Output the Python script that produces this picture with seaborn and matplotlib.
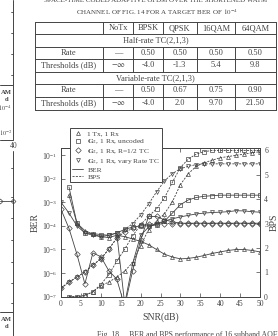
import seaborn as sns
import matplotlib.pyplot as plt
from matplotlib.lines import Line2D

sns.set_style("ticks")
plt.rcParams['font.family'] = ['Liberation Serif', 'DejaVu Serif']
plt.rcParams['mathtext.fontset'] = 'stix'

ink = '#444444'

# ---- data ----
snr = [2, 4, 6, 8, 10, 12, 14, 16, 18, 20, 22, 24, 26, 28, 30, 32, 34, 36, 38, 40, 42, 44, 46, 48, 50]
snr_tc = [0] + snr   # turbo coded curves start at 0 dB

ber_1tx = [2.0e-3, 1.3e-4, 6.3e-5, 4.5e-5, 3.5e-5, 3.2e-5, 4.0e-5, 3.5e-5, 2.8e-5, 2.2e-5, 1.6e-5, 1.0e-5, 6.3e-6,
           4.8e-6, 4.0e-6, 4.2e-6, 4.7e-6, 5.6e-6, 6.8e-6, 7.9e-6, 9.1e-6, 1.0e-5, 1.0e-5, 9.1e-6, 7.9e-6]
ber_unc = [4.5e-3, 1.3e-4, 5.0e-5, 4.7e-5, 4.3e-5, 4.0e-5, 5.0e-5, 7.1e-5, 8.9e-5, 1.0e-4, 1.0e-4, 1.1e-4, 1.6e-4,
           3.5e-4, 7.9e-4, 1.26e-3, 1.6e-3, 1.8e-3, 1.9e-3, 2.0e-3, 2.0e-3, 2.0e-3, 2.0e-3, 2.0e-3, 2.0e-3]
ber_half = [5.0e-4, 7.9e-5, 6.3e-6, 3.5e-7, 7.1e-6, 5.0e-6, 1.26e-6, 5.6e-7, 4.0e-8, 1.26e-6, 2.5e-5, 2.5e-4, 2.5e-4,
            1.8e-4, 1.5e-4, 1.3e-4, 1.3e-4, 1.3e-4, 1.3e-4, 1.3e-4, 1.3e-4, 1.3e-4, 1.3e-4, 1.3e-4, 1.3e-4, 1.3e-4]
ber_var = [1.0e-3, 3.5e-4, 1.0e-4, 5.0e-5, 4.0e-5, 3.5e-5, 4.0e-5, 5.0e-5, 5.0e-8, 2.5e-6, 4.0e-5, 8.9e-5, 1.26e-4,
           1.6e-4, 2.0e-4, 2.4e-4, 2.8e-4, 3.2e-4, 3.5e-4, 3.7e-4, 3.8e-4, 4.0e-4, 4.4e-4, 4.3e-4, 4.0e-4, 3.8e-4]

bps_1tx = [0, 0, 0.05, 0.2, 0.45, 0.6, 0.8, 1.05, 1.4, 2.1, 2.75, 3.1, 3.4, 3.9, 4.6, 5.05, 5.35, 5.5, 5.6, 5.7,
           5.75, 5.8, 5.85, 5.9, 5.95]
bps_unc = [0, 0, 0.05, 0.2, 0.5, 0.9, 1.45, 1.95, 2.5, 2.95, 3.3, 3.6, 4.05, 4.7, 5.3, 5.65, 5.85, 5.95, 6.0, 6.0,
           6.0, 6.0, 6.0, 6.0, 6.0]
bps_half = [0.35, 0.6, 0.8, 1.02, 1.3, 1.55, 1.95, 2.4, 2.65, 2.8, 2.93, 2.98, 3.0, 3.0, 3.0, 3.0, 3.0, 3.0, 3.0,
            3.0, 3.0, 3.0, 3.0, 3.0, 3.0, 3.0]
bps_var = [0.35, 0.6, 0.8, 1.02, 1.3, 1.55, 1.95, 2.4, 2.75, 3.0, 3.35, 3.8, 4.3, 4.75, 5.05, 5.25, 5.35, 5.42,
           5.45, 5.45, 5.45, 5.45, 5.45, 5.45, 5.45, 5.45]

legend_labels = ["1 Tx, 1 Rx", r"$\mathbf{G}_2$, 1 Rx, uncoded", r"$\mathbf{G}_2$, 1 Rx, R=1/2 TC",
                 r"$\mathbf{G}_2$, 1 Rx, vary Rate TC"]
markers = ['^', 's', 'D', 'v']

# table contents
tab_cols = ["", "NoTx", "BPSK", "QPSK", "16QAM", "64QAM"]
half_rate = ["—", "0.50", "0.50", "0.50", "0.50"]
half_thr = ["$-\\infty$", "-4.0", "-1.3", "5.4", "9.8"]
var_rate = ["—", "0.50", "0.67", "0.75", "0.90"]
var_thr = ["$-\\infty$", "-4.0", "2.0", "9.70", "21.50"]

fig = plt.figure(figsize=(2.78, 3.36), dpi=100)

# page overlay in pixel units (table, caption, bits of the next column)
ov = fig.add_axes([0, 0, 1, 1])
ov.set_xlim(0, 278)
ov.set_ylim(336, 0)
ov.axis('off')

ov.text(156, 1, "SPACE-TIME CODED ADAPTIVE OFDM OVER THE SHORTENED WATM", ha='center', va='center',
        fontsize=5.0, color=ink)
ov.text(157, 12.5, "CHANNEL OF FIG. 14 FOR A TARGET BER OF $10^{-4}$", ha='center', va='center',
        fontsize=5.0, color=ink)

col_x = [35, 102.7, 133.3, 162.7, 196.7, 235, 276]
row_y = [21.7, 34.3, 46.7, 59, 71.7, 84, 96.7, 109.5]
lw_t = 0.7
for y in row_y:
    ov.plot([col_x[0], col_x[-1]], [y, y], color=ink, lw=lw_t)
ov.plot([col_x[0]] * 2, [row_y[0], row_y[-1]], color=ink, lw=lw_t)
ov.plot([col_x[-1]] * 2, [row_y[0], row_y[-1]], color=ink, lw=lw_t)
for r in [0, 2, 3, 5, 6]:
    for x in col_x[1:-1]:
        ov.plot([x, x], [row_y[r], row_y[r + 1]], color=ink, lw=lw_t)

rows = [tab_cols, None, ["Rate"] + half_rate, ["Thresholds (dB)"] + half_thr,
        None, ["Rate"] + var_rate, ["Thresholds (dB)"] + var_thr]
spans = {1: "Half-rate TC(2,1,3)", 4: "Variable-rate TC(2,1,3)"}
fs_t = 6.0
for r, cells in enumerate(rows):
    yc = (row_y[r] + row_y[r + 1]) / 2
    if cells is None:
        ov.text((col_x[0] + col_x[-1]) / 2, yc, spans[r], ha='center', va='center', fontsize=fs_t, color=ink)
        continue
    for c, txt in enumerate(cells):
        ov.text((col_x[c] + col_x[c + 1]) / 2, yc, txt, ha='center', va='center', fontsize=fs_t, color=ink)

# fragments of the neighbouring column on the left edge
ov.plot([13, 13], [0, 85], color=ink, lw=0.7)
for y in [12, 33, 54, 75]:
    ov.plot([10.5, 13], [y, y], color=ink, lw=0.6)
ov.plot([0, 13, 13, 0], [85, 85, 140, 140], color=ink, lw=0.7)
ov.text(12, 92.5, "AM", ha='right', va='center', fontsize=4.8, fontweight='bold', color=ink)
ov.text(8, 99.5, "d", ha='right', va='center', fontsize=4.8, fontweight='bold', color=ink)
ov.text(12, 108, "$10^{-4}$", ha='right', va='center', fontsize=4.5, color=ink)
ov.text(12, 133, "$10^{-2}$", ha='right', va='center', fontsize=4.5, color=ink)
ov.text(14, 146, "40", ha='center', va='center', fontsize=5.5, color=ink)
ov.plot([13, 13], [151, 312], color=ink, lw=0.7)
for y in [168, 197, 218, 240, 262, 283, 303]:
    ov.plot([10.5, 13], [y, y], color=ink, lw=0.6)
ov.plot([0, 13], [201, 201], color=ink, lw=0.6, marker='D', ms=2.5, mfc='none', mec=ink, mew=0.5)
ov.plot([0, 13, 13], [312, 312, 336], color=ink, lw=0.7)
ov.text(12, 319.5, "AM", ha='right', va='center', fontsize=4.8, fontweight='bold', color=ink)
ov.text(8, 327, "d", ha='right', va='center', fontsize=4.8, fontweight='bold', color=ink)
ov.text(97, 335, "Fig. 18.    BER and BPS performance of 16 subband AOFDM employing th",
        ha='left', va='center', fontsize=5.6, color=ink)

# ---- main chart ----
ax = fig.add_axes([61 / 278, 1 - 296.7 / 336, 199 / 278, 148.7 / 336])
ax.set_yscale('log')
ax2 = ax.twinx()

ber_sets = [(snr, ber_1tx), (snr, ber_unc), (snr_tc, ber_half), (snr_tc, ber_var)]
bps_sets = [(snr, bps_1tx), (snr, bps_unc), (snr_tc, bps_half), (snr_tc, bps_var)]
mk = dict(ms=2.8, mfc='none', mec=ink, mew=0.5)
for (x, y), m in zip(ber_sets, markers):
    sns.lineplot(x=x, y=y, ax=ax, color=ink, lw=0.6, marker=m, **mk)
for (x, y), m in zip(bps_sets, markers):
    sns.lineplot(x=x, y=y, ax=ax2, color=ink, lw=0.6, linestyle=(0, (2.5, 1.5)), marker=m, **mk)

ax.set_xlim(0, 50)
ax.set_ylim(1e-7, 10 ** -0.7)
ax2.set_ylim(0, 6.1)
ax.set_xticks(range(0, 51, 5))
ax.set_yticks([1e-7, 1e-6, 1e-5, 1e-4, 1e-3, 1e-2, 1e-1])
ax.minorticks_off()
ax2.set_yticks(range(0, 7))

for a in (ax, ax2):
    for s in a.spines.values():
        s.set_visible(True)
        s.set_linewidth(0.7)
        s.set_color(ink)
ax.tick_params(direction='in', length=3, width=0.5, labelsize=5.5, colors=ink, top=True, pad=2.5)
ax2.tick_params(direction='in', length=3, width=0.5, labelsize=5.5, colors=ink, pad=3)

ax.set_xlabel("SNR(dB)", fontsize=7, color=ink, labelpad=3)
ax.set_ylabel("BER", fontsize=7, color=ink, labelpad=2)
ax2.set_ylabel("BPS", fontsize=7, color=ink, labelpad=1)

handles = [Line2D([], [], ls='none', marker=m, **mk) for m in markers]
handles += [Line2D([], [], color=ink, lw=0.6), Line2D([], [], color=ink, lw=0.6, ls=(0, (2.5, 1.5)))]
leg = ax2.legend(handles, legend_labels + ["BER", "BPS"], loc='upper left',
                 bbox_to_anchor=(70 / 278, 1 - 128 / 336), bbox_transform=fig.transFigure,
                 borderaxespad=0, fontsize=5.4, frameon=True, fancybox=False, framealpha=1,
                 edgecolor=ink, labelspacing=0.12, handlelength=1.4, handletextpad=0.6, borderpad=0.3)
leg.get_frame().set_linewidth(0.7)
for t in leg.get_texts():
    t.set_color(ink)

fig.savefig("out.png", dpi=100)
